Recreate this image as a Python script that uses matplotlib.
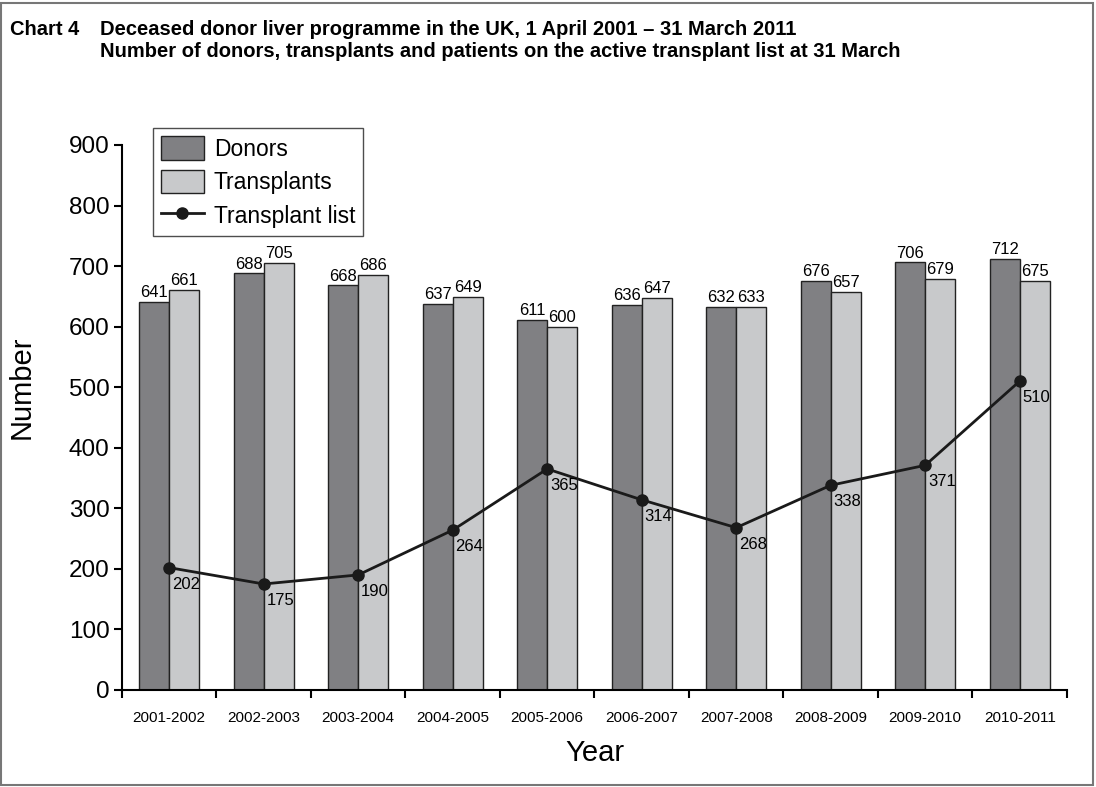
import matplotlib.pyplot as plt
import numpy as np
from matplotlib.patches import Rectangle

plt.rcParams['font.family'] = ['Liberation Sans', 'DejaVu Sans']

years = ["2001-2002", "2002-2003", "2003-2004", "2004-2005", "2005-2006",
         "2006-2007", "2007-2008", "2008-2009", "2009-2010", "2010-2011"]
donors = [641, 688, 668, 637, 611, 636, 632, 676, 706, 712]
transplants = [661, 705, 686, 649, 600, 647, 633, 657, 679, 675]
transplant_list = [202, 175, 190, 264, 365, 314, 268, 338, 371, 510]

fig = plt.figure(figsize=(10.96, 7.87), dpi=100)
ax = fig.add_axes([0.1113, 0.1233, 0.8622, 0.6925])

x = np.arange(len(years))
w = 0.317
b1 = ax.bar(x - w / 2, donors, w, color="#808083", edgecolor="#222222", linewidth=1, label="Donors", zorder=2)
b2 = ax.bar(x + w / 2, transplants, w, color="#c8c9cb", edgecolor="#222222", linewidth=1, label="Transplants", zorder=2)
ln, = ax.plot(x, transplant_list, color="#1a1a1a", linewidth=2, marker="o", markersize=8,
              label="Transplant list", zorder=3)

for i in range(len(years)):
    ax.text(x[i] - w / 2, donors[i] + 3, str(donors[i]), ha="center", va="bottom", fontsize=12)
    ax.text(x[i] + w / 2, transplants[i] + 3, str(transplants[i]), ha="center", va="bottom", fontsize=12)
    ax.text(x[i] + 0.03, transplant_list[i] - 15, str(transplant_list[i]), ha="left", va="top",
            fontsize=12, zorder=4)

ax.set_xlim(-0.5, len(years) - 0.5)
ax.set_ylim(0, 900)
ax.set_yticks(range(0, 901, 100))
ax.set_xticks(x)
ax.set_xticklabels(years, fontsize=11)
ax.set_xticks(np.arange(-0.5, len(years)), minor=True)
ax.tick_params(axis="x", which="major", length=0, pad=15)
ax.tick_params(axis="x", which="minor", length=6, width=1.5, direction="out")
ax.tick_params(axis="y", labelsize=17.5, length=6, width=1.5, direction="out", pad=3)
for s in ["top", "right"]:
    ax.spines[s].set_visible(False)
for s in ["left", "bottom"]:
    ax.spines[s].set_linewidth(1.5)

ax.set_ylabel("Number", fontsize=21)
ax.yaxis.set_label_coords(-0.091, 0.555)
ax.set_xlabel("Year", fontsize=21, labelpad=10)

leg = ax.legend(handles=[b1, b2, ln], loc="upper left", bbox_to_anchor=(0.033, 1.031), fontsize=16.5,
                frameon=True, fancybox=False, edgecolor="#222222", handlelength=1.85, handleheight=1.2,
                borderpad=0.35, labelspacing=0.4, handletextpad=0.45, borderaxespad=0)
leg.get_frame().set_linewidth(1)

fig.text(0.009, 0.975, "Chart 4", fontsize=14.5, fontweight="bold", va="top")
fig.text(0.091, 0.975, "Deceased donor liver programme in the UK, 1 April 2001 \u2013 31 March 2011\n"
         "Number of donors, transplants and patients on the active transplant list at 31 March",
         fontsize=14.5, fontweight="bold", va="top", linespacing=1.2)

fig.patches.append(Rectangle((0.001, 0.003), 0.996, 0.993, transform=fig.transFigure,
                             fill=False, edgecolor="#777777", linewidth=1.5))

fig.savefig("out.png", dpi=100)
